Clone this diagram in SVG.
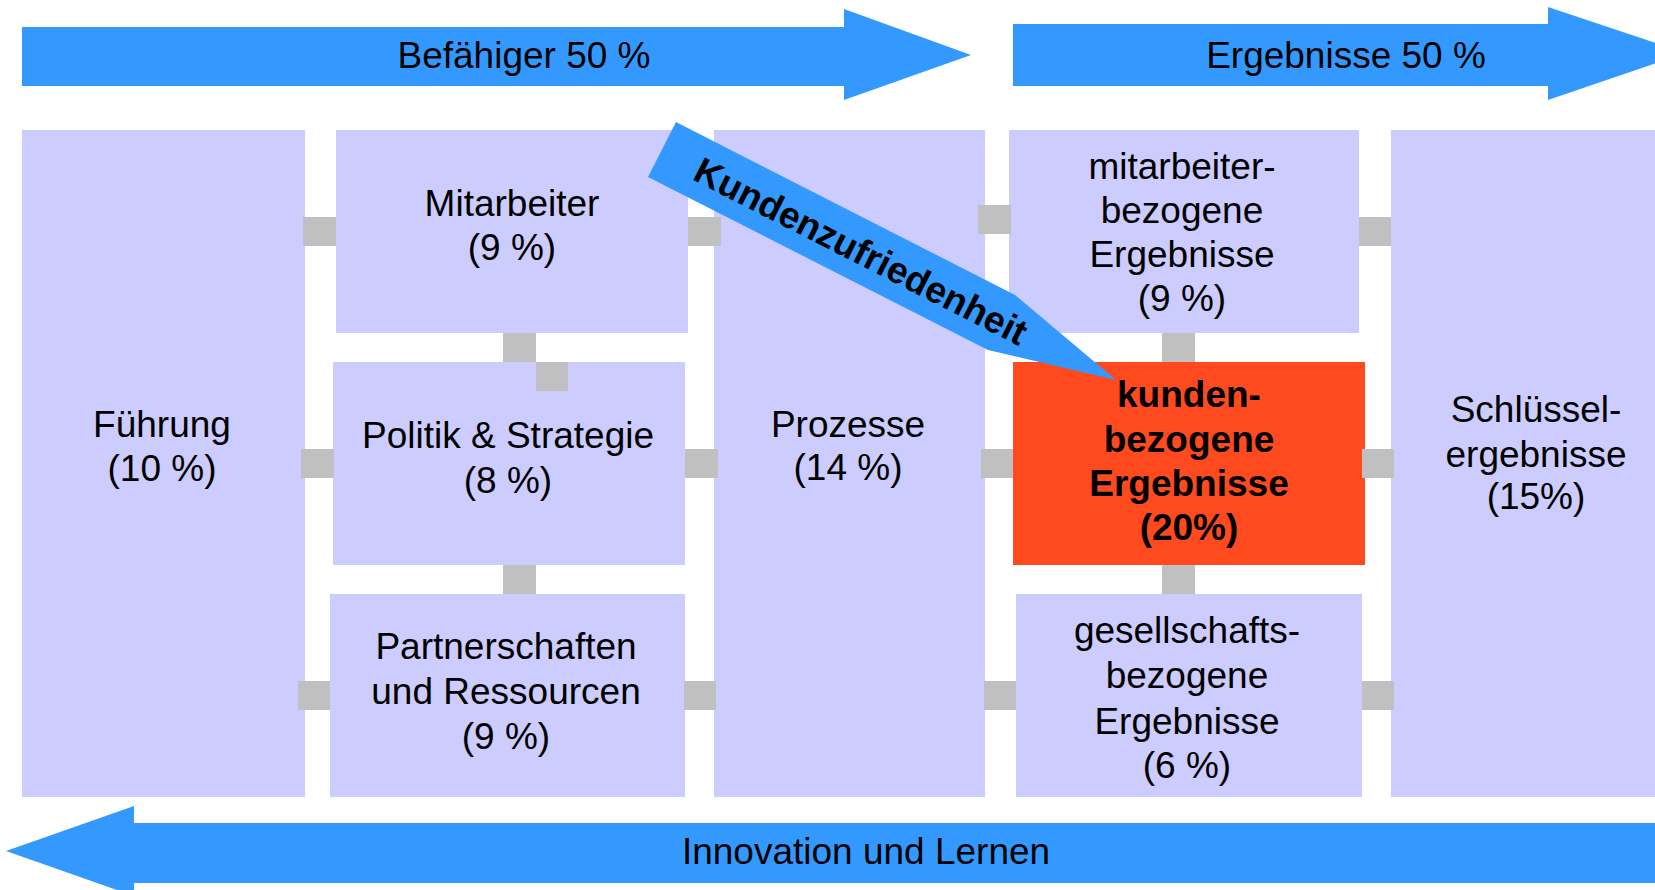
<svg xmlns="http://www.w3.org/2000/svg" width="1655" height="890" viewBox="0 0 1655 890">
<style>
.box{fill:#CCCCFF}
.hot{fill:#FF4A1F}
.arr{fill:#3399FF}
.con{fill:#C0C0C0}
text{font-family:"Liberation Sans",Arial,sans-serif;font-size:37px;fill:#000;text-anchor:middle}
.b{font-weight:bold}
</style>
<rect width="1655" height="890" fill="#FFFFFF"/>
<g id="arrow-befaehiger">
<polygon class="arr" points="22,27 844,27 844,9 971,55 844,100 844,86 22,86"/>
<text x="524" y="68">Befähiger 50 %</text>
</g>
<g id="arrow-ergebnisse">
<polygon class="arr" points="1013,24 1548,24 1548,7 1686,53 1548,100 1548,86 1013,86"/>
<text x="1346" y="68">Ergebnisse 50 %</text>
</g>
<g id="arrow-innovation">
<polygon class="arr" points="1655,823 134,823 134,806 6,851 134,896 134,883 1655,883"/>
<text x="866" y="864">Innovation und Lernen</text>
</g>
<g id="fuehrung">
<rect class="box" x="22" y="130" width="283" height="667"/>
<text x="162" y="437">Führung</text>
<text x="162" y="481">(10 %)</text>
</g>
<g id="mitarbeiter">
<rect class="box" x="336" y="130" width="352" height="203"/>
<text x="512" y="216">Mitarbeiter</text>
<text x="512" y="260">(9 %)</text>
</g>
<g id="politik">
<rect class="box" x="333" y="362" width="352" height="203"/>
<text x="508" y="448">Politik &amp; Strategie</text>
<text x="508" y="493">(8 %)</text>
</g>
<g id="partnerschaften">
<rect class="box" x="330" y="594" width="355" height="203"/>
<text x="506" y="659">Partnerschaften</text>
<text x="506" y="704">und Ressourcen</text>
<text x="506" y="749">(9 %)</text>
</g>
<g id="prozesse">
<rect class="box" x="714" y="130" width="271" height="667"/>
<text x="848" y="437">Prozesse</text>
<text x="848" y="480">(14 %)</text>
</g>
<g id="mitarbeiterbezogen">
<rect class="box" x="1009" y="130" width="350" height="203"/>
<text x="1182" y="179">mitarbeiter-</text>
<text x="1182" y="223">bezogene</text>
<text x="1182" y="267">Ergebnisse</text>
<text x="1182" y="311">(9 %)</text>
</g>
<g id="kundenbezogen">
<rect class="hot" x="1013" y="362" width="352" height="203"/>
<text class="b" x="1189" y="407">kunden-</text>
<text class="b" x="1189" y="452">bezogene</text>
<text class="b" x="1189" y="496">Ergebnisse</text>
<text class="b" x="1189" y="540">(20%)</text>
</g>
<g id="gesellschaftsbezogen">
<rect class="box" x="1016" y="594" width="346" height="203"/>
<text x="1187" y="643">gesellschafts-</text>
<text x="1187" y="688">bezogene</text>
<text x="1187" y="734">Ergebnisse</text>
<text x="1187" y="778">(6 %)</text>
</g>
<g id="schluessel">
<rect class="box" x="1391" y="130" width="264" height="667"/>
<text x="1536" y="422">Schlüssel-</text>
<text x="1536" y="467">ergebnisse</text>
<text x="1536" y="509">(15%)</text>
</g>
<g id="connectors">
<rect class="con" x="303" y="217" width="33" height="29"/>
<rect class="con" x="688" y="217" width="33" height="29"/>
<rect class="con" x="503" y="333" width="33" height="29"/>
<rect class="con" x="536" y="362" width="32" height="29"/>
<rect class="con" x="301" y="449" width="33" height="29"/>
<rect class="con" x="685" y="449" width="33" height="29"/>
<rect class="con" x="503" y="565" width="33" height="29"/>
<rect class="con" x="298" y="681" width="32" height="29"/>
<rect class="con" x="684" y="681" width="32" height="29"/>
<rect class="con" x="978" y="205" width="33" height="29"/>
<rect class="con" x="981" y="449" width="32" height="29"/>
<rect class="con" x="984" y="681" width="32" height="29"/>
<rect class="con" x="1162" y="333" width="33" height="29"/>
<rect class="con" x="1162" y="565" width="33" height="29"/>
<rect class="con" x="1359" y="217" width="32" height="29"/>
<rect class="con" x="1362" y="449" width="32" height="29"/>
<rect class="con" x="1362" y="681" width="32" height="29"/>
</g>
<g id="kundenzufriedenheit">
<polygon class="arr" points="676,122 1015,295 1116,380 988,350 648,177"/>
<text class="b" transform="translate(861,251) rotate(27)" x="0" y="13" style="font-size:37px">Kundenzufriedenheit</text>
</g>
</svg>
